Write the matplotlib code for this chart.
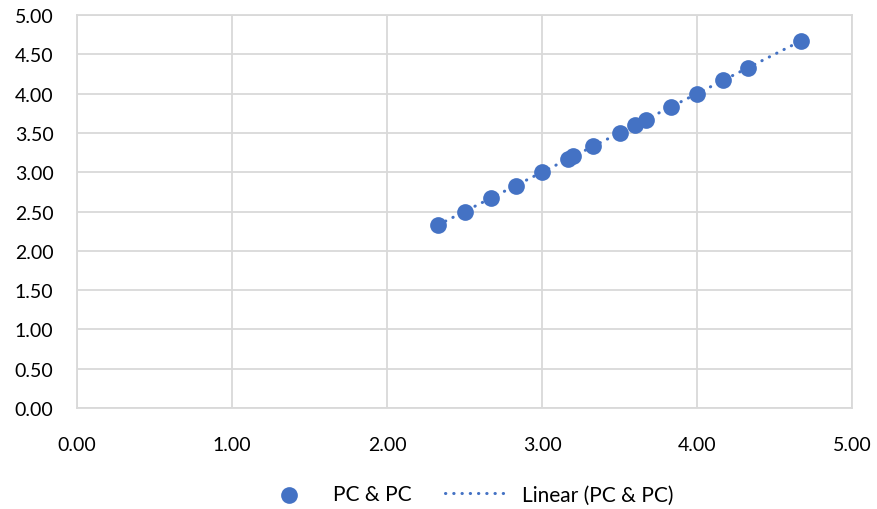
import matplotlib.pyplot as plt
import numpy as np

plt.rcParams['font.family'] = ['Lato', 'DejaVu Sans']

# PC & PC scatter values
pc_x = [2.33, 2.50, 2.67, 2.83, 3.00, 3.17, 3.20, 3.33, 3.50, 3.60, 3.67, 3.83, 4.00, 4.17, 4.33, 4.67]
pc_y = [2.33, 2.50, 2.67, 2.83, 3.00, 3.17, 3.20, 3.33, 3.50, 3.60, 3.67, 3.83, 4.00, 4.17, 4.33, 4.67]
ticks = [0, 1, 2, 3, 4, 5]
y_ticks = [0, 0.5, 1, 1.5, 2, 2.5, 3, 3.5, 4, 4.5, 5]

blue = '#4472C4'
grid = '#d9d9d9'

fig = plt.figure(figsize=(8.78, 5.10), dpi=100)
fig.patch.set_facecolor('white')
ax = fig.add_axes([0.0877, 0.198, 0.8827, 0.7706])

# linear trend line fitted to the points, round dots
k, b = np.polyfit(pc_x, pc_y, 1)
tx = np.array([min(pc_x), max(pc_x)])
ax.plot(tx, k * tx + b, color=blue, lw=2.2, ls=(0, (0.1, 2.6)),
        dash_capstyle='round', label='Linear (PC & PC)', zorder=2)
ax.scatter(pc_x, pc_y, s=145, color=blue, label='PC & PC', zorder=3, linewidths=0)

ax.set_xlim(0, 5)
ax.set_ylim(0, 5)
ax.set_xticks(ticks)
ax.set_yticks(y_ticks)
ax.xaxis.set_major_formatter(plt.FormatStrFormatter('%.2f'))
ax.yaxis.set_major_formatter(plt.FormatStrFormatter('%.2f'))
ax.tick_params(length=0, labelsize=14, colors='#000000')
ax.tick_params(axis='y', pad=17)
ax.tick_params(axis='x', pad=20)
ax.grid(True, color=grid, lw=1.3)
ax.set_axisbelow(True)
for s in ax.spines.values():
    s.set_color(grid)
    s.set_linewidth(1.3)

h, l = ax.get_legend_handles_labels()
ax.legend(h[::-1], l[::-1], loc='center', bbox_to_anchor=(0.5, -0.22), ncol=2,
          frameon=False, fontsize=15, handlelength=3.2, handletextpad=0.5,
          columnspacing=1.6, markerscale=1.0)

plt.savefig('out.png', dpi=100)
plt.close(fig)
